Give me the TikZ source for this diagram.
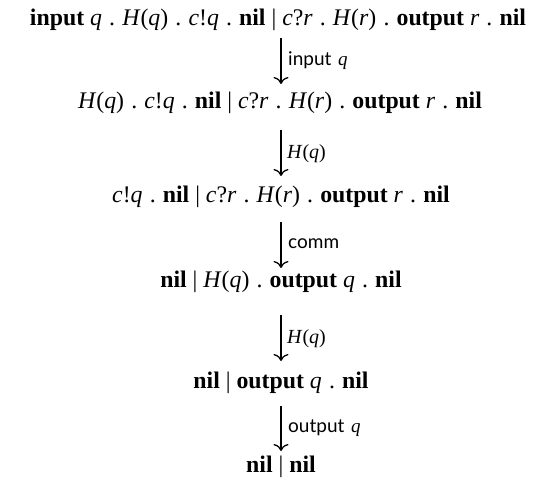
\documentclass[tikz,border=0pt]{standalone}
\usepackage{fontspec}
\setmainfont{Liberation Serif}
\newfontfamily\labsf{Lato}
\usetikzlibrary{arrows.meta}
\newcommand{\iv}[1]{\textit{#1}}
\newcommand{\kw}[1]{\textbf{#1}}
\newcommand{\sep}{\hspace{0.3em}.\hspace{0.3em}}
\begin{document}
\begin{tikzpicture}[x=1pt,y=-1pt,
  rowtxt/.style={anchor=base, inner sep=0pt, font=\fontsize{23.8}{28}\selectfont},
  labtxt/.style={anchor=base west, inner sep=0pt, font=\fontsize{20}{24}\selectfont},
  sflab/.style={labtxt, font=\fontsize{19}{23}\labsf},
  redarrow/.style={line width=1.3pt, -{To[length=7pt,width=15pt]}}]
\useasboundingbox (0,0) rectangle (555,493);
% rows
\node[rowtxt] (r1) at (278,25) {\kw{input} \iv{q}\sep\iv{H}(\iv{q})\sep\iv{c}!\iv{q}\sep\kw{nil} | \iv{c}?\iv{r}\sep\iv{H}(\iv{r})\sep\kw{output} \iv{r}\sep\kw{nil}};
\node[rowtxt] (r2) at (280,108) {\iv{H}(\iv{q})\sep\iv{c}!\iv{q}\sep\kw{nil} | \iv{c}?\iv{r}\sep\iv{H}(\iv{r})\sep\kw{output} \iv{r}\sep\kw{nil}};
\node[rowtxt] (r3) at (281,202) {\iv{c}!\iv{q}\sep\kw{nil} | \iv{c}?\iv{r}\sep\iv{H}(\iv{r})\sep\kw{output} \iv{r}\sep\kw{nil}};
\node[rowtxt] (r4) at (281,287) {\kw{nil} | \iv{H}(\iv{q})\sep\kw{output} \iv{q}\sep\kw{nil}};
\node[rowtxt] (r5) at (281,388) {\kw{nil} | \kw{output} \iv{q}\sep\kw{nil}};
\node[rowtxt] (r6) at (281,472) {\kw{nil} | \kw{nil}};
% arrow end points
\coordinate (t1) at (281,38);  \coordinate (b1) at (281,84);
\coordinate (t2) at (281,130); \coordinate (b2) at (281,176);
\coordinate (t3) at (281,222); \coordinate (b3) at (281,268);
\coordinate (t4) at (281,315); \coordinate (b4) at (281,361);
\coordinate (t5) at (281,406); \coordinate (b5) at (281,451);
\draw[redarrow] (t1) -- (b1);
\draw[redarrow] (t2) -- (b2);
\draw[redarrow] (t3) -- (b3);
\draw[redarrow] (t4) -- (b4);
\draw[redarrow] (t5) -- (b5);
% labels
\node[sflab] (l1) at (288,65) {input\hspace{0.35em}{\fontspec{Liberation Serif}\itshape q}};
\node[labtxt] (l2) at (287,158) {\iv{H}(\iv{q})};
\node[sflab] (l3) at (288,248) {comm};
\node[labtxt] (l4) at (287,343) {\iv{H}(\iv{q})};
\node[sflab] (l5) at (288,432) {output\hspace{0.35em}{\fontspec{Liberation Serif}\itshape q}};
\end{tikzpicture}
\end{document}
